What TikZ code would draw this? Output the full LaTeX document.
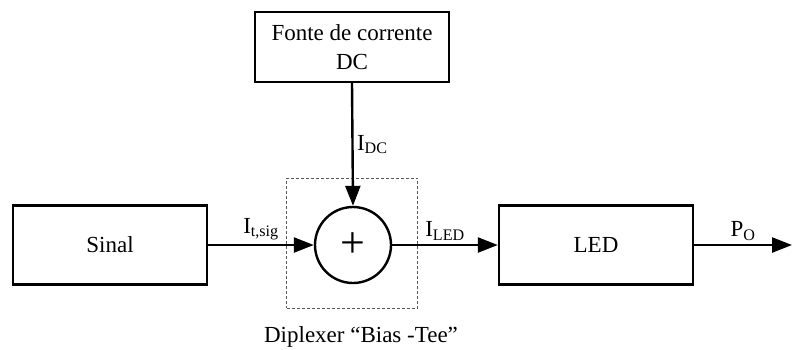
\documentclass[tikz,border=0pt]{standalone}
\usepackage{fontspec}
\setmainfont{Liberation Serif}
\usetikzlibrary{arrows.meta}

\begin{document}
\begin{tikzpicture}[x=1pt, y=-1pt, >={Triangle[length=20pt, width=15pt]},
    every node/.style={font=\fontsize{23}{29}\selectfont},
    bloco/.style={draw, line width=2.4pt, minimum width=194pt, minimum height=79pt},
    seta/.style={->, line width=2.4pt}]
    \useasboundingbox (0,0) rectangle (792,349);
    % Blocos
    \node[bloco, minimum height=70pt, align=center] (fonte) at (352,47) {Fonte de corrente\\DC};
    \node[bloco] (sinal) at (110,245) {Sinal};
    \node[bloco] (led) at (596,245) {LED};
    % Diplexer "Bias-Tee"
    \node[draw, gray!70!black, line width=0.8pt, dash pattern=on 3pt off 2pt,
        minimum width=131pt, minimum height=130pt] (diplexer) at (352,243) {};
    \node[circle, draw, line width=2.4pt, minimum size=76pt, inner sep=0pt,
        font=\fontsize{44}{44}\selectfont] (soma) at (353,245) {+};
    \node (rotulo) at (361,337) {Diplexer “Bias -Tee”};
    \coordinate (saida) at (792,245);
    % Ligacoes
    \draw[seta] (fonte.south) -- node[right, pos=0.5] {I\textsubscript{DC}} (soma.north);
    \draw[seta] (sinal.east) -- node[above] {I\textsubscript{t,sig}} (soma.west);
    \draw[seta] (soma.east) -- node[above] {I\textsubscript{LED}} (led.west);
    \draw[seta] (led.east) -- node[above] {P\textsubscript{O}} (saida);
\end{tikzpicture}
\end{document}
